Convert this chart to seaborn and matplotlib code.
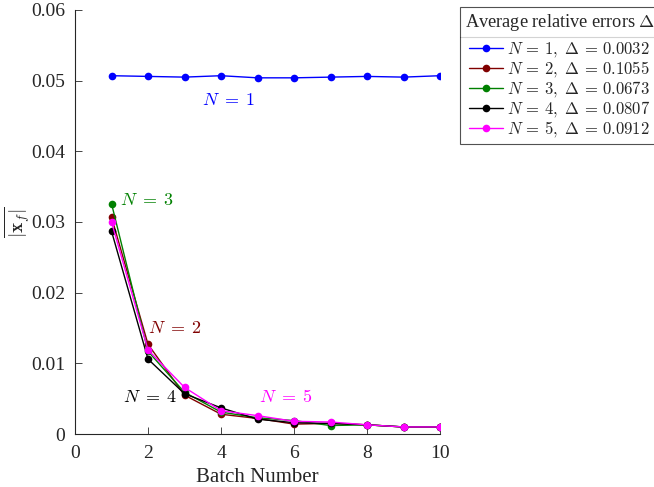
import matplotlib
matplotlib.use("Agg")
import matplotlib.pyplot as plt
from matplotlib.lines import Line2D
import numpy as np
import pandas as pd
import seaborn as sns

batch = [1, 2, 3, 4, 5, 6, 7, 8, 9, 10]
err_n1 = [0.0507, 0.0506, 0.0505, 0.0507, 0.0504, 0.0504, 0.0505, 0.0506, 0.0505, 0.0507]
err_n2 = [0.0307, 0.0127, 0.0055, 0.0028, 0.0022, 0.0014, 0.0015, 0.0013, 0.0010, 0.0010]
err_n3 = [0.0326, 0.0117, 0.0059, 0.0031, 0.0023, 0.0019, 0.0012, 0.0013, 0.0010, 0.0010]
err_n4 = [0.0287, 0.0106, 0.0057, 0.0037, 0.0021, 0.0016, 0.0015, 0.0013, 0.0010, 0.0010]
err_n5 = [0.0300, 0.0119, 0.0066, 0.0033, 0.0026, 0.0018, 0.0017, 0.0013, 0.0010, 0.0010]
deltas = [0.0032, 0.1055, 0.0673, 0.0807, 0.0912]
series_names = ["N = 1", "N = 2", "N = 3", "N = 4", "N = 5"]
colors = ["#0000ff", "#800000", "#008000", "#000000", "#ff00ff"]

sns.set_style("ticks")
plt.rcParams["font.family"] = ["Liberation Serif", "DejaVu Serif"]
plt.rcParams["mathtext.fontset"] = "cm"

frames = []
for name, vals in zip(series_names, [err_n1, err_n2, err_n3, err_n4, err_n5]):
    frames.append(pd.DataFrame({"batch": batch, "err": vals, "N": name}))
df = pd.concat(frames, ignore_index=True)

fig = plt.figure(figsize=(6.54, 4.87), dpi=100)
ax = fig.add_axes([0.1147, 0.1088, 0.5581, 0.8707])

sns.lineplot(data=df, x="batch", y="err", hue="N", palette=colors,
             marker="o", markersize=5.5, markeredgewidth=0, linewidth=1.0,
             ax=ax, legend=False)

ax.set_xlim(0, 10)
ax.set_ylim(0, 0.06)
ax.set_xticks([0, 2, 4, 6, 8, 10])
ax.set_yticks([0, 0.01, 0.02, 0.03, 0.04, 0.05, 0.06])
ax.set_yticklabels(["0", "0.01", "0.02", "0.03", "0.04", "0.05", "0.06"])
ax.tick_params(direction="in", labelsize=14, length=5, width=0.6, colors="#262626")
ax.tick_params(axis="x", pad=8)
ax.tick_params(axis="y", pad=7)
for lab in ax.get_xticklabels() + ax.get_yticklabels():
    lab.set_color("#262626")
sns.despine(ax=ax)
for s in ["left", "bottom"]:
    ax.spines[s].set_linewidth(0.8)
    ax.spines[s].set_color("#262626")

ax.set_xlabel("Batch Number", fontsize=15, labelpad=4, color="#262626")
ax.set_ylabel(r"$\overline{|\mathbf{x}_f|}$", fontsize=14)
ax.yaxis.set_label_coords(-0.115, 0.5)

# curve labels
def nlab(i):
    return rf"$N\;=\;{i}$"

ax.text(4.22, 0.0472, nlab(1), color=colors[0], fontsize=13, ha="center", va="center")
ax.text(1.23, 0.0331, nlab(3), color=colors[2], fontsize=13, ha="left", va="center")
ax.text(1.99, 0.0150, nlab(2), color=colors[1], fontsize=13, ha="left", va="center")
ax.text(1.32, 0.0051, nlab(4), color=colors[3], fontsize=13, ha="left", va="center")
ax.text(5.04, 0.0052, nlab(5), color=colors[4], fontsize=13, ha="left", va="center")

handles = [Line2D([0], [0], color=c, marker="o", markersize=5.5, markeredgewidth=0, linewidth=1.0)
           for c in colors]
labels = [rf"$N\,=\,{i + 1},\ \Delta\,=\,{d:.4f}$" for i, d in enumerate(deltas)]
leg = fig.legend(handles, labels, title=r"Average relative errors $\Delta$",
                 loc="upper left", bbox_to_anchor=(0.703, 0.985),
                 fontsize=12, title_fontsize=13.2, frameon=True, fancybox=False,
                 edgecolor="#262626", handlelength=2.0, handletextpad=0.25,
                 labelspacing=0.0, borderpad=0.3, borderaxespad=0)
leg.get_frame().set_linewidth(0.8)
# extra room between the title and the entries
leg._legend_box.sep = 5

# separator line under the legend title
fig.canvas.draw()
renderer = fig.canvas.get_renderer()
lbox = leg.get_window_extent(renderer)
tbox = leg.get_title().get_window_extent(renderer)
ysep = tbox.y0 - 4
inv = fig.transFigure.inverted()
x0, y0 = inv.transform((lbox.x0, ysep))
x1, _ = inv.transform((lbox.x1, ysep))
fig.add_artist(Line2D([x0, x1], [y0, y0], color="#262626", linewidth=0.8,
                      transform=fig.transFigure))

fig.savefig("out.png", dpi=100)
